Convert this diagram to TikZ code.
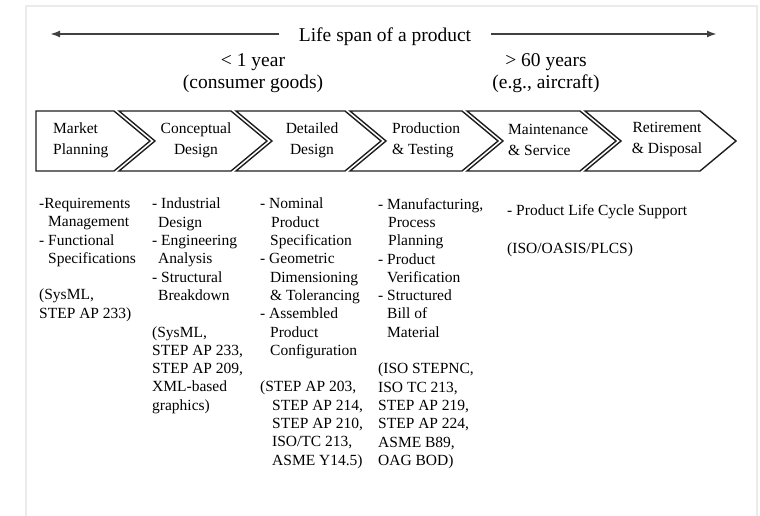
\documentclass[tikz,border=0pt]{standalone}
\usepackage{fontspec}
\setmainfont{Liberation Serif}
\usepackage{tikz}
\usetikzlibrary{positioning,arrows.meta}
\definecolor{ink}{HTML}{1E1E1E}
\definecolor{framegray}{HTML}{EBEBEB}
% hanging indent for continued list lines
\newcommand{\indnt}[1][9]{\hspace*{#1bp}}
\tikzset{
  chevron/.style={draw=ink, line width=1.4bp, line join=miter},
  stage/.style={inner sep=0pt, align=center, font={\fontsize{15.5bp}{21bp}\selectfont}},
  notes/.style={inner sep=0pt, align=left, anchor=north west,
                font={\fontsize{15.5bp}{18.3bp}\selectfont}},
  headline/.style={inner sep=0pt, align=center, font={\fontsize{19.5bp}{21.5bp}\selectfont}},
  span/.style={-{Latex[length=10bp,width=7bp]}, line width=2bp, draw=ink!85}
}

\begin{document}
\begin{tikzpicture}[x=1bp, y=-1bp]
\useasboundingbox (0,0) rectangle (760,516);
\draw[framegray, line width=2.5bp] (26,516) -- (26,6) -- (757,6) -- (757,516);

% life span arrow
\node[headline, inner xsep=20bp] (span) at (385,37) {Life span of a product};
\coordinate (spanleft) at (50,34);
\coordinate (spanright) at (717,34);
\draw[span] (spanleft -| span.west) -- (spanleft);
\draw[span] (spanright -| span.east) -- (spanright);
\node[headline] (short) at (253,73) {< 1 year\\(consumer goods)};
\node[headline] (long) at (546,73) {> 60 years\\(e.g., aircraft)};

% phases
\draw[chevron] (36,111) -- (114,111) -- (150,141) -- (114,171) -- (36,171) -- cycle;
\draw[chevron] (119,111) -- (231,111) -- (267,141) -- (231,171) -- (119,171) -- (155,141) -- cycle;
\draw[chevron] (236,111) -- (345,111) -- (381,141) -- (345,171) -- (236,171) -- (272,141) -- cycle;
\draw[chevron] (350,111) -- (462,111) -- (498,141) -- (462,171) -- (350,171) -- (386,141) -- cycle;
\draw[chevron] (467,111) -- (580,111) -- (616,141) -- (580,171) -- (467,171) -- (503,141) -- cycle;
\draw[chevron] (585,111) -- (700,111) -- (736,141) -- (700,171) -- (585,171) -- (621,141) -- cycle;

\node[stage, align=left, anchor=west] (market) at (53,140) {Market\\Planning};
\node[stage] (concept) at (196,140) {Conceptual\\Design};
\node[stage] (detail) at (312,140) {Detailed\\Design};
\node[stage, align=left, anchor=west] (production) at (392,140) {Production\\\& Testing};
\node[stage, align=left, anchor=west] (maintenance) at (508,140) {Maintenance\\\& Service};
\node[stage] (retirement) at (667,140) {Retirement\\\& Disposal};

% activities and standards per phase
\node[notes] (marketnotes) at (39,198) {-Requirements\\\indnt Management\\- Functional\\\indnt Specifications\\[18.3bp](SysML,\\STEP AP 233)};
\node[notes] (conceptnotes) at (152,198) {- Industrial\\\indnt[6]Design\\- Engineering\\\indnt[6]Analysis\\- Structural\\\indnt[6]Breakdown\\[18.3bp](SysML,\\STEP AP 233,\\STEP AP 209,\\XML-based\\graphics)};
\node[notes] (detailnotes) at (260,198) {- Nominal\\\indnt[11]Product\\\indnt[10]Specification\\- Geometric\\\indnt[10]Dimensioning\\\indnt[10]\& Tolerancing\\- Assembled\\\indnt[10]Product\\\indnt[10]Configuration\\[18.3bp](STEP AP 203,\\\indnt[12]STEP AP 214,\\\indnt[12]STEP AP 210,\\\indnt[12]ISO/TC 213,\\\indnt[12]ASME Y14.5)};
\node[notes] (productionnotes) at (378,198) {- Manufacturing,\\\indnt[10]Process\\\indnt[10]Planning\\- Product\\\indnt Verification\\- Structured\\\indnt Bill of\\\indnt Material\\[18.3bp](ISO STEPNC,\\ISO TC 213,\\STEP AP 219,\\STEP AP 224,\\ASME B89,\\OAG BOD)};
\node[notes] (supportnotes) at (507,204) {- Product Life Cycle Support\\[20bp](ISO/OASIS/PLCS)};
\end{tikzpicture}
\end{document}
